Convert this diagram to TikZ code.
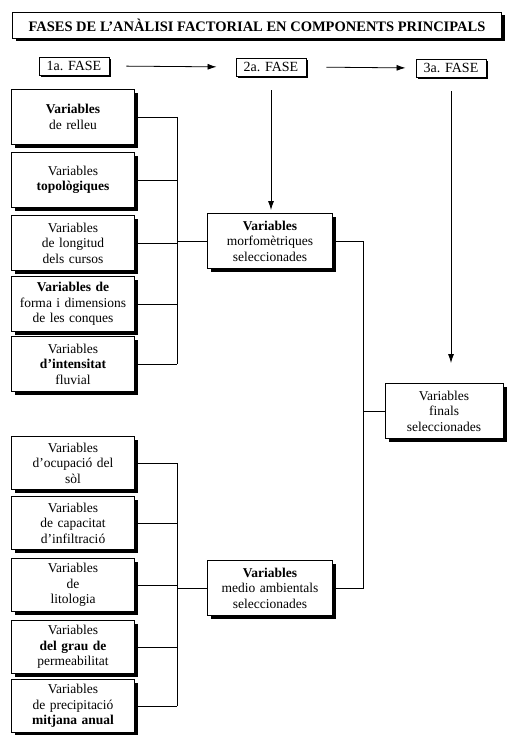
\documentclass[tikz,border=0pt]{standalone}
\usepackage{fontspec}
\setmainfont{Liberation Serif}
\usetikzlibrary{positioning,shadows,arrows.meta}

\begin{document}
\begin{tikzpicture}[x=1pt, y=-1pt,
  shadowed/.style={draw, fill=white, line width=0.9pt,
    drop shadow={shadow xshift=3.5pt, shadow yshift=-3.5pt, fill=black, opacity=1}},
  titlebox/.style={shadowed, minimum width=489pt, minimum height=26pt, inner sep=0pt,
    font=\fontsize{14.5}{17}\selectfont\bfseries},
  fasebox/.style={draw, fill=white, line width=0.9pt, minimum width=70pt, minimum height=18pt,
    inner sep=0pt, font=\fontsize{14}{16}\selectfont,
    drop shadow={shadow xshift=2pt, shadow yshift=-2pt, fill=black, opacity=1}},
  varbox/.style={shadowed, text width=115pt, inner xsep=4pt, inner ysep=0pt,
    minimum height=55pt, align=center, font=\fontsize{13.5}{15.5}\selectfont},
  selbox/.style={varbox, text width=117pt},
  link/.style={line width=0.7pt},
  phase/.style={line width=0.8pt, -{Latex[length=9pt,width=6pt]}}
]
  \useasboundingbox (0,0) rectangle (508,735);

  % Title and phases
  \node[titlebox] (title) at (257,25) {FASES DE L'ANÀLISI FACTORIAL EN COMPONENTS PRINCIPALS};
  \node[fasebox] (fase1) at (74,66) {1a. FASE};
  \node[fasebox] (fase2) at (271,67) {2a. FASE};
  \node[fasebox] (fase3) at (451,68) {3a. FASE};

  % Morphometric variables
  \node[varbox] (relleu) at (73,117) {\textbf{Variables}\\de relleu};
  \node[varbox] (topol) at (73,180) {Variables\\\textbf{topològiques}};
  \node[varbox] (longit) at (73,243) {Variables\\de longitud\\dels cursos};
  \node[varbox] (forma) at (73,304) {\textbf{Variables de}\\forma i dimensions\\de les conques};
  \node[varbox] (intens) at (73,364) {Variables\\\textbf{d'intensitat}\\fluvial};

  % Environmental variables
  \node[varbox, minimum height=53pt] (ocup) at (73,463) {Variables\\d'ocupació del\\sòl};
  \node[varbox, minimum height=53pt] (infil) at (73,523) {Variables\\de capacitat\\d'infiltració};
  \node[varbox, minimum height=53pt] (litol) at (73,585) {Variables\\de\\litologia};
  \node[varbox, minimum height=53pt] (perme) at (73,647) {Variables\\\textbf{del grau de}\\permeabilitat};
  \node[varbox, minimum height=53pt] (precip) at (73,706) {Variables\\de precipitació\\\textbf{mitjana anual}};

  % Selected variables
  \node[selbox] (morf) at (270,241) {\textbf{Variables}\\morfomètriques\\seleccionades};
  \node[selbox] (medio) at (270,588) {\textbf{Variables}\\medio ambientals\\seleccionades};
  \node[selbox, text width=110pt] (final) at (444,411) {Variables\\finals\\seleccionades};

  % Buses
  \coordinate (busA) at (177,0);
  \coordinate (busB) at (363,0);

  \foreach \n in {relleu,topol,longit,forma,intens,ocup,infil,litol,perme,precip}
    \draw[link] (\n.east) -- (\n.east -| busA);
  \draw[link] (relleu.east -| busA) -- (intens.east -| busA);
  \draw[link] (ocup.east -| busA) -- (precip.east -| busA);
  \draw[link] (morf.west -| busA) -- (morf.west);
  \draw[link] (medio.west -| busA) -- (medio.west);

  \draw[link] (morf.east) -- (morf.east -| busB) -- (medio.east -| busB) -- (medio.east);
  \draw[link] (final.west -| busB) -- (final.west);

  % Phase arrows
  \draw[phase, shorten <=17pt, shorten >=19pt] (fase1.east) -- (fase2.west);
  \draw[phase, shorten <=20pt, shorten >=10pt] (fase2.east) -- (fase3.west);
  \draw[phase, shorten <=14pt, shorten >=3pt] (fase2.south) -- (fase2.south |- morf.north);
  \draw[phase, shorten <=14pt, shorten >=20pt] (fase3.south) -- (fase3.south |- final.north);

\end{tikzpicture}
\end{document}
